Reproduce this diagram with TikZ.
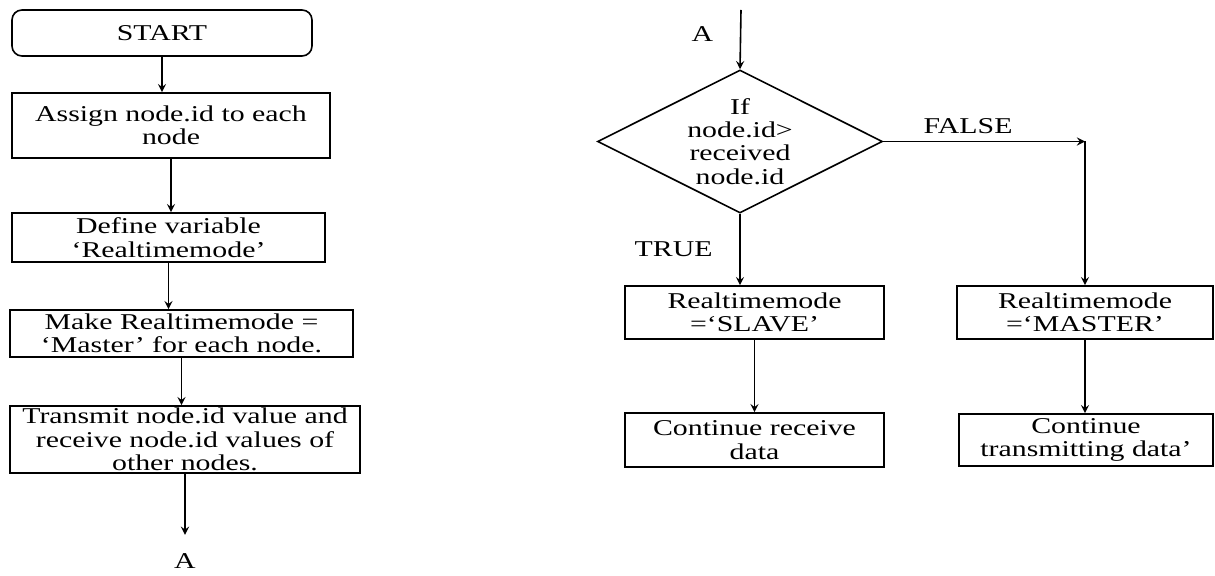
\documentclass[tikz,border=0pt]{standalone}
\usepackage{fontspec}
\setmainfont{Liberation Serif}[FakeStretch=1.32]
\usetikzlibrary{positioning,shapes,arrows}

\begin{document}
\begin{tikzpicture}[
    x=0.5pt, y=-0.5pt,
    font=\fontsize{11.3}{11.7}\selectfont,
    box/.style={draw, line width=0.8pt, align=center, inner sep=0pt},
    decision/.style={draw, line width=0.8pt, diamond, aspect=2, align=center, inner sep=0pt,
        minimum width=142.5pt, minimum height=71.5pt},
    arrow/.style={->, >=stealth, line width=0.8pt}
]
    \useasboundingbox (0,0) rectangle (1215,576);

    % left column
    \node[box, rounded corners=5pt, minimum width=150pt, minimum height=23pt] (start) at (162,33) {START};
    \node[box, minimum width=159pt, minimum height=32.5pt] (assign) at (171,125.5) {Assign node.id to each\\node};
    \node[box, minimum width=156.5pt, minimum height=24.5pt] (define) at (168.5,237.5) {Define variable\\‘Realtimemode’};
    \node[box, minimum width=171.5pt, minimum height=23.5pt] (make) at (181.5,333.5) {Make Realtimemode =\\‘Master’ for each node.};
    \node[box, minimum width=175pt, minimum height=33.5pt] (transmit) at (185,439.5) {Transmit node.id value and\\receive node.id values of\\other nodes.};
    \path (transmit.south) ++(0,61) coordinate (exitA);
    \node[below=6pt of exitA] (endA) {A};

    \draw[arrow] (start.south) -- (start.south |- assign.north);
    \draw[arrow] (assign.south) -- (assign.south |- define.north);
    \draw[arrow] (define.south) -- (define.south |- make.north);
    \draw[arrow] (make.south) -- (make.south |- transmit.north);
    \draw[arrow] (transmit.south) -- (exitA);

    % right column
    \coordinate (entryA) at (741,10);
    \node[decision] (check) at (740,141.5) {If\\node.id>\\received\\node.id};
    \node[box, minimum width=129.5pt, minimum height=26.5pt] (slave) at (754.5,312.5) {Realtimemode\\=‘SLAVE’};
    \node[box, minimum width=129.5pt, minimum height=27pt] (receive) at (754.5,440) {Continue receive\\data};
    \node[box, minimum width=128pt, minimum height=26.5pt] (master) at (1085,312.5) {Realtimemode\\=‘MASTER’};
    \node[box, minimum width=127pt, minimum height=26pt] (sending) at (1086,440) {Continue\\transmitting data’};
    \coordinate (falsecorner) at (master.north |- check.east);

    \draw[arrow] (entryA) -- node[pos=0.4, left=10pt] (labelA) {A} (check.north);
    \draw[arrow] (check.south) -- node[left=10pt] (labeltrue) {TRUE} (check.south |- slave.north);
    \draw[arrow] (check.east) -- node[pos=0.42, above] (labelfalse) {FALSE} (falsecorner);
    \draw[arrow] (falsecorner) -- (master.north);
    \draw[arrow] (slave.south) -- (slave.south |- receive.north);
    \draw[arrow] (master.south) -- (master.south |- sending.north);
\end{tikzpicture}
\end{document}
